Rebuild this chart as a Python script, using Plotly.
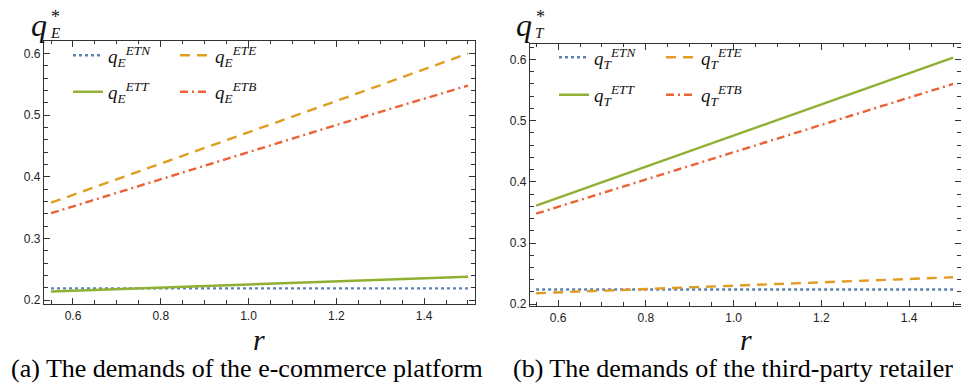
import plotly.graph_objects as go

# ---------------- data ----------------
r_vals = [0.55, 0.8, 1.0, 1.2, 1.5]

# (a) e-commerce platform demands
qE_ETN = [0.219, 0.219, 0.219, 0.219, 0.219]
qE_ETE = [0.358, 0.421, 0.472, 0.523, 0.600]
qE_ETT = [0.214, 0.220, 0.225, 0.230, 0.238]
qE_ETB = [0.341, 0.396, 0.440, 0.484, 0.548]

# (b) third-party retailer demands
qT_ETN = [0.224, 0.224, 0.224, 0.224, 0.224]
qT_ETE = [0.218, 0.225, 0.230, 0.236, 0.244]
qT_ETT = [0.361, 0.425, 0.476, 0.527, 0.603]
qT_ETB = [0.348, 0.404, 0.448, 0.493, 0.560]

x_ticks = [0.6, 0.8, 1.0, 1.2, 1.4]
x_tick_text = ["0.6", "0.8", "1.0", "1.2", "1.4"]
y_ticks = [0.2, 0.3, 0.4, 0.5, 0.6]
y_tick_text = ["0.2", "0.3", "0.4", "0.5", "0.6"]

captions = ["(a) The demands of the e-commerce platform",
            "(b) The demands of the third-party retailer"]

# ---------------- style ----------------
W, H = 969, 383
BLUE, ORANGE, GREEN, RED = "#5E81B5", "#E19C24", "#8FB032", "#EB6235"
LW = 2.4
styles = {
    "ETN": dict(color=BLUE, dash="3px,3px"),
    "ETE": dict(color=ORANGE, dash="10px,7px"),
    "ETT": dict(color=GREEN, dash="solid"),
    "ETB": dict(color=RED, dash="8px,4px,2px,4px"),
}

def px_x(p):
    return p / W

def px_y(p):
    return 1 - p / H

fig = go.Figure()

panels = [
    ("E", "x", "y", [qE_ETN, qE_ETE, qE_ETT, qE_ETB], ["legend", "legend2"]),
    ("T", "x2", "y2", [qT_ETN, qT_ETE, qT_ETT, qT_ETB], ["legend3", "legend4"]),
]
keys = ["ETN", "ETE", "ETT", "ETB"]
for sub, xa, ya, series, legs in panels:
    for k, vals in zip(keys, series):
        leg = legs[0] if k in ("ETN", "ETE") else legs[1]
        fig.add_trace(go.Scatter(
            x=r_vals, y=vals, mode="lines", xaxis=xa, yaxis=ya,
            line=dict(width=LW, **styles[k]),
            name=f"<i>q<sub>{sub}</sub><sup>{k}</sup></i>",
            legend=leg, showlegend=True,
        ))

axis_common = dict(
    showgrid=False, zeroline=False, showline=True, linecolor="#333",
    linewidth=1.3, mirror="allticks", ticks="inside", ticklen=6,
    tickwidth=1, tickcolor="#333",
    tickfont=dict(family="Liberation Sans", size=12, color="#222"),
)

dom_x1 = [px_x(36), px_x(467)]
dom_x2 = [px_x(522), px_x(953)]
dom_y1 = [px_y(300), px_y(33)]
dom_y2 = [px_y(302), px_y(36)]

minor_x = dict(dtick=0.05, tick0=0.5, ticks="inside", ticklen=3.5, tickcolor="#333")
minor_y = dict(dtick=0.02, tick0=0.2, ticks="inside", ticklen=3.5, tickcolor="#333")

fig.update_layout(
    width=W, height=H, margin=dict(l=0, r=0, t=0, b=0),
    paper_bgcolor="white", plot_bgcolor="white",
    xaxis=dict(domain=dom_x1, range=[0.534, 1.516], anchor="y",
               tickvals=x_ticks, ticktext=x_tick_text, minor=minor_x,
               ticklabelstandoff=0, **axis_common),
    yaxis=dict(domain=dom_y1, range=[0.1936, 0.621], anchor="x",
               tickvals=y_ticks, ticktext=y_tick_text, minor=minor_y,
               **axis_common),
    xaxis2=dict(domain=dom_x2, range=[0.536, 1.518], anchor="y2",
                tickvals=x_ticks, ticktext=x_tick_text, minor=minor_x,
                ticklabelstandoff=0, **axis_common),
    yaxis2=dict(domain=dom_y2, range=[0.197, 0.626], anchor="x2",
                tickvals=y_ticks, ticktext=y_tick_text, minor=minor_y,
                **axis_common),
)

leg_common = dict(orientation="h", bgcolor="rgba(0,0,0,0)", borderwidth=0,
                  font=dict(family="Liberation Serif", size=19, color="#111"),
                  entrywidth=62, entrywidthmode="pixels", traceorder="normal",
                  xanchor="left", yanchor="middle", itemwidth=30)
fig.update_layout(
    legend=dict(x=px_x(60), y=px_y(48), **leg_common),
    legend2=dict(x=px_x(60), y=px_y(85), **leg_common),
    legend3=dict(x=px_x(546), y=px_y(50), **leg_common),
    legend4=dict(x=px_x(546), y=px_y(88), **leg_common),
)

ann = []
# y-axis titles q*_E, q*_T (stacked sub/superscript)
for qx, sx, sub in [(31, 47, "E"), (516, 532, "T")]:
    ann.append(dict(x=px_x(qx), y=px_y(17), xref="paper", yref="paper", showarrow=False,
                    text="<i>q</i>", font=dict(family="Liberation Serif", size=32, color="#111"),
                    xanchor="center", yanchor="middle"))
    ann.append(dict(x=px_x(sx), y=px_y(9), xref="paper", yref="paper", showarrow=False,
                    text="*", font=dict(family="Liberation Serif", size=18, color="#111"),
                    xanchor="center", yanchor="middle"))
    ann.append(dict(x=px_x(sx), y=px_y(25), xref="paper", yref="paper", showarrow=False,
                    text=f"<i>{sub}</i>", font=dict(family="Liberation Serif", size=15, color="#111"),
                    xanchor="center", yanchor="middle"))
# x-axis titles r
for cx in [(36 + 467) / 2, (522 + 953) / 2]:
    ann.append(dict(x=px_x(cx), y=px_y(336), xref="paper", yref="paper", showarrow=False,
                    text="<i>r</i>", font=dict(family="Liberation Serif", size=30, color="#111"),
                    xanchor="center", yanchor="middle"))
# captions
ann.append(dict(x=px_x(239), y=px_y(365), xref="paper", yref="paper", showarrow=False,
                text=captions[0], font=dict(family="Liberation Serif", size=26, color="#000"),
                xanchor="center", yanchor="middle"))
ann.append(dict(x=px_x(725), y=px_y(365), xref="paper", yref="paper", showarrow=False,
                text=captions[1], font=dict(family="Liberation Serif", size=26, color="#000"),
                xanchor="center", yanchor="middle"))
fig.update_layout(annotations=ann)

fig.write_html("out.html")
